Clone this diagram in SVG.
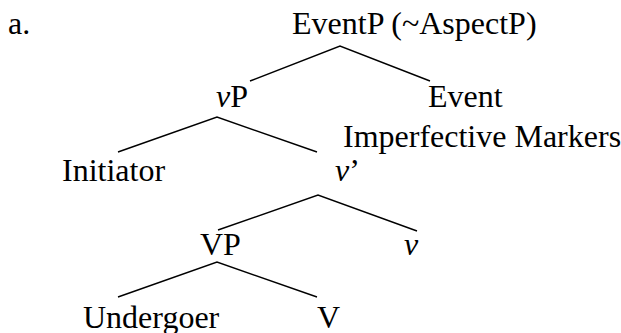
<svg xmlns="http://www.w3.org/2000/svg" width="621" height="333" viewBox="0 0 621 333" font-family="'Liberation Serif', 'Times New Roman', Tinos, 'DejaVu Serif', serif" font-size="32">
  <style>
    text { font-family: "Liberation Serif", "Times New Roman", Tinos, "DejaVu Serif", serif; font-size: 32px; fill: #000; }
    .it { font-style: italic; }
    .edge { stroke: #000; stroke-width: 1.4; fill: none; }
  </style>
  <rect width="621" height="333" fill="#fff"/>

  <text id="label-a" x="8" y="34">a.</text>

  <g id="connectors">
    <polyline class="edge" points="250,81 340,46 430,81"/>
    <polyline class="edge" points="118,152 217,117 317,152"/>
    <polyline class="edge" points="218,230 318,195 417,231"/>
    <polyline class="edge" points="118,297 217,262 317,297"/>
  </g>

  <g id="node-eventp"><text x="292" y="34">EventP (~AspectP)</text></g>
  <g id="node-vp"><text x="216" y="107"><tspan class="it">v</tspan>P</text></g>
  <g id="node-event">
    <text x="428" y="107">Event</text>
    <text x="343" y="147">Imperfective Markers</text>
  </g>
  <g id="node-initiator"><text x="62" y="181">Initiator</text></g>
  <g id="node-vbar"><text x="335" y="181"><tspan class="it">v</tspan>’</text></g>
  <g id="node-VP"><text x="200" y="255">VP</text></g>
  <g id="node-v"><text class="it" x="404" y="255">v</text></g>
  <g id="node-undergoer"><text x="83" y="328">Undergoer</text></g>
  <g id="node-V"><text x="317" y="328">V</text></g>
</svg>
